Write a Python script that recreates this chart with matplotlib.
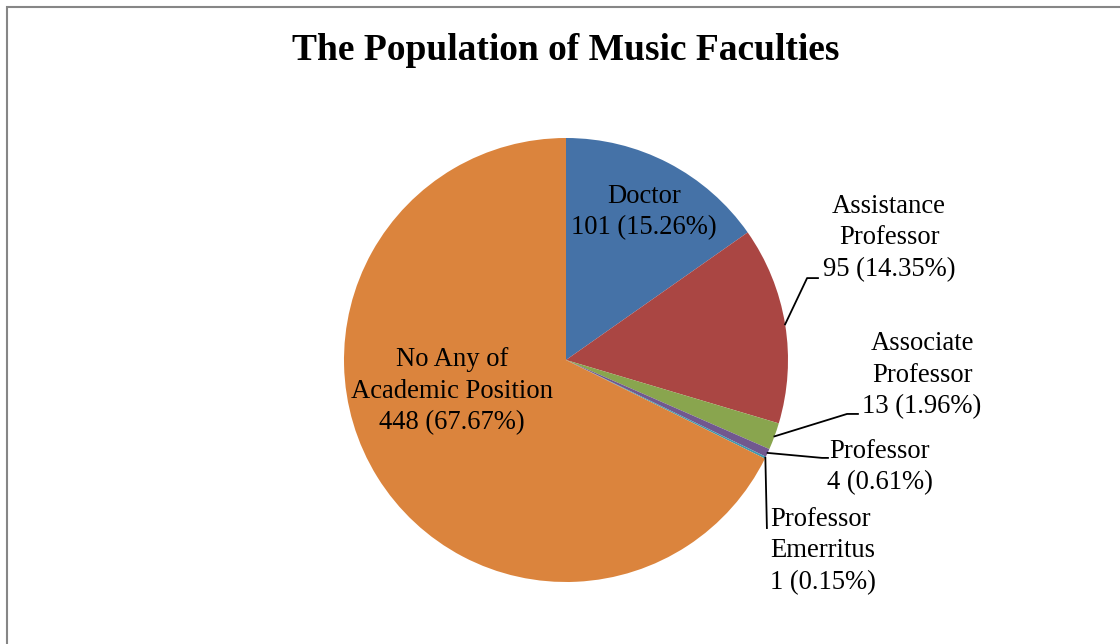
import numpy as np
import matplotlib.pyplot as plt
from matplotlib.patches import Rectangle

plt.rcParams['font.family'] = ['Liberation Serif', 'DejaVu Serif']

# Faculty counts by academic position
labels = ['Doctor', 'Assistance\nProfessor', 'Associate\nProfessor',
          'Professor', 'Professor\nEmerritus', 'No Any of\nAcademic Position']
counts = [101, 95, 13, 4, 1, 448]
percents = [15.26, 14.35, 1.96, 0.61, 0.15, 67.67]
colors = ['#4572A7', '#AA4643', '#89A54E', '#71588F', '#4198AF', '#DB843D']

# label placement (axes data units, pie radius = 1) and horizontal alignment
label_xy = [(0.351, 0.667), (1.455, 0.550), (1.604, -0.068),
            (1.414, -0.482), (0.919, -0.860), (-0.514, -0.140)]
label_ha = ['center', 'center', 'center', 'center', 'left', 'center']
# leader lines: elbow point and end point (None = no leader)
leaders = [None,
           [(1.086, 0.369), (1.135, 0.369)],
           [(1.266, -0.243), (1.315, -0.243)],
           [(1.153, -0.441), (1.180, -0.441)],
           [(0.905, -0.757)],
           None]

W, H = 1120, 644
fig = plt.figure(figsize=(W / 100, H / 100), dpi=100)

# chart frame
fig.add_artist(Rectangle((7 / W, -0.1), 1.2, 1.1 - 6.5 / H, transform=fig.transFigure,
                         fill=False, edgecolor='#868686', linewidth=1.5))

fig.text(566 / W, 1 - 51 / H, 'The Population of Music Faculties',
         ha='center', va='center', fontsize=27, fontweight='bold')

cx, cy, r = 566, 360, 222
ax = fig.add_axes([(cx - r) / W, (H - cy - r) / H, 2 * r / W, 2 * r / H])
wedges, _ = ax.pie(counts, colors=colors, startangle=90, counterclock=False,
                   radius=1, wedgeprops=dict(linewidth=0))
ax.set_xlim(-1, 1)
ax.set_ylim(-1, 1)
ax.set_aspect('equal')
ax.axis('off')

for w, lab, n, p, (tx, ty), ha, lead in zip(wedges, labels, counts, percents,
                                             label_xy, label_ha, leaders):
    txt = f'{lab}\n{n} ({p:.2f}%)'
    ax.text(tx, ty, txt, ha=ha, va='center', fontsize=19.2, linespacing=1.33,
            multialignment='left' if ha == 'left' else 'center', clip_on=False)
    if lead:
        mid = np.deg2rad((w.theta1 + w.theta2) / 2)
        pts = [(np.cos(mid), np.sin(mid))] + lead
        xs, ys = zip(*pts)
        ax.plot(xs, ys, color='black', linewidth=1.3, clip_on=False)

fig.savefig('out.png', dpi=100)
